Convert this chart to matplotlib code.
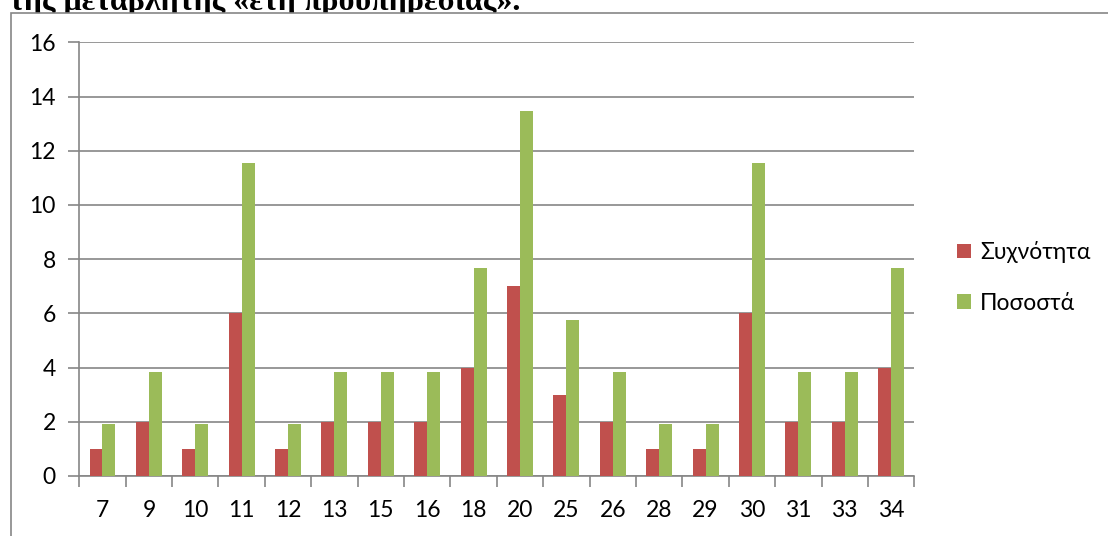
import matplotlib

matplotlib.use("Agg")

import matplotlib.pyplot as plt
import numpy as np
from matplotlib.patches import Rectangle

# years of service (categories) and the two series
years = ["7", "9", "10", "11", "12", "13", "15", "16", "18", "20", "25", "26", "28", "29", "30", "31", "33", "34"]
frequency = [1, 2, 1, 6, 1, 2, 2, 2, 4, 7, 3, 2, 1, 1, 6, 2, 2, 4]
percent = [1.92, 3.85, 1.92, 11.54, 1.92, 3.85, 3.85, 3.85, 7.69, 13.46,
           5.77, 3.85, 1.92, 1.92, 11.54, 3.85, 3.85, 7.69]
series_names = ["Συχνότητα", "Ποσοστά"]
title_text = "της μεταβλητής «έτη προϋπηρεσίας»."

RED = "#C0504D"
GREEN = "#9BBB59"
GRID = "#868686"
FS = 16.5

plt.rcParams["font.family"] = ["Lato", "DejaVu Sans"]

fig = plt.figure(figsize=(11.08, 5.36), dpi=100)
W, H = 1108, 536

# cropped heading from the document above the chart
fig.text(9 / W, 1 - 10 / H, title_text, family=["Liberation Serif", "DejaVu Serif"],
         fontweight="bold", fontsize=23, ha="left", va="baseline")

# outer chart frame (cut off at the right and bottom)
fig.patches.append(Rectangle((10.5 / W, -0.1), 1.2, 1 - 12.5 / H + 0.1, transform=fig.transFigure,
                             facecolor="white", edgecolor=GRID, linewidth=1.2, zorder=5))

ax = fig.add_axes([79.3 / W, 1 - 476 / H, (914.3 - 79.3) / W, (476 - 42.3) / H])
ax.set_zorder(10)
ax.patch.set_alpha(0)

x = np.arange(len(years))
bw = 0.28
ax.bar(x - bw / 2, frequency, width=bw, color=RED, label=series_names[0], zorder=3)
ax.bar(x + bw / 2, percent, width=bw, color=GREEN, label=series_names[1], zorder=3)

ax.set_xlim(-0.5, len(years) - 0.5)
ax.set_ylim(0, 16)
ax.set_yticks(range(0, 17, 2))
ax.yaxis.grid(True, color=GRID, linewidth=1.2, zorder=0)
ax.set_axisbelow(True)

ax.set_xticks(x)
ax.set_xticklabels(years)
ax.set_xticks(np.arange(-0.5, len(years), 1), minor=True)
ax.tick_params(axis="x", which="major", length=0, pad=17, labelsize=FS)
ax.tick_params(axis="x", which="minor", length=8, width=1.2, color=GRID, direction="out")
ax.tick_params(axis="y", length=8, width=1.2, color=GRID, direction="out", pad=9, labelsize=FS)

for side in ["top", "right"]:
    ax.spines[side].set_visible(False)
for side in ["left", "bottom"]:
    ax.spines[side].set_color(GRID)
    ax.spines[side].set_linewidth(1.2)

ax.legend(loc="center left", bbox_to_anchor=(1.04, 0.458), frameon=False, fontsize=FS,
          handlelength=0.6, handleheight=0.6, handletextpad=0.4, labelspacing=1.3,
          borderaxespad=0)

fig.savefig("out.png", dpi=100)
